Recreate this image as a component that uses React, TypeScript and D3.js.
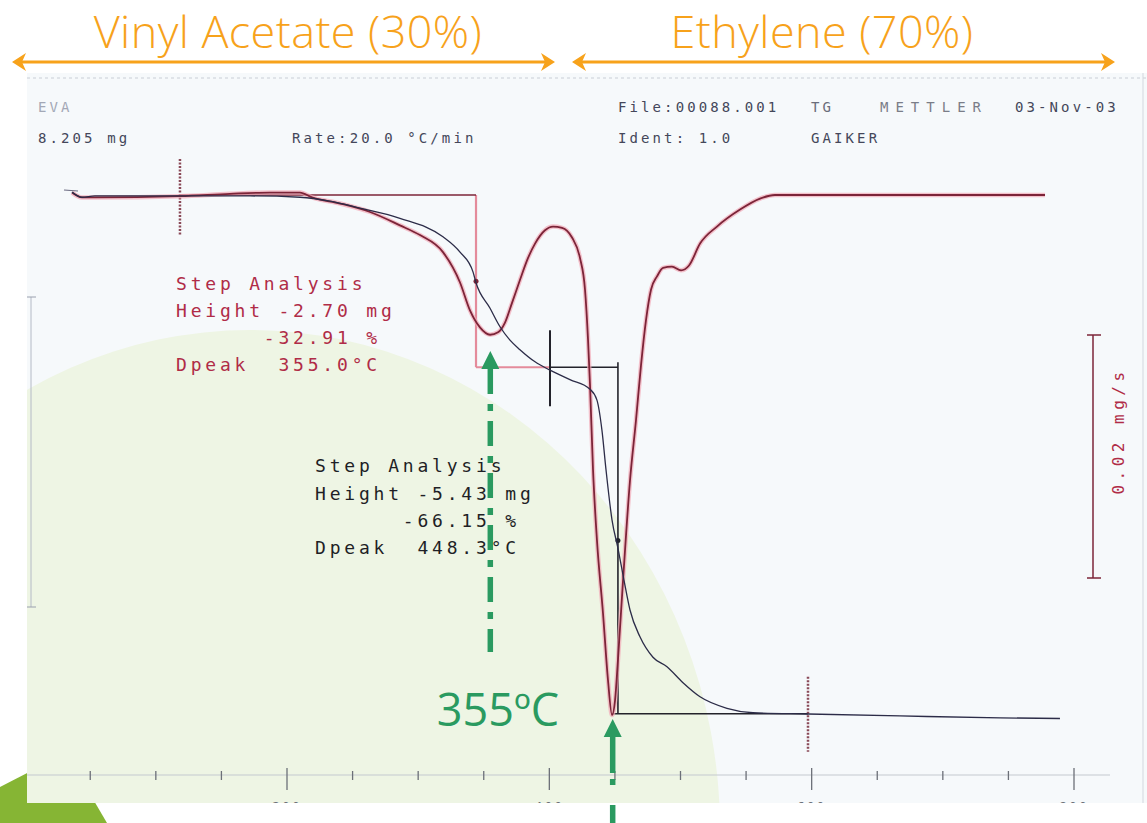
import React from "react";
import * as d3 from "d3";

const W = 1147;
const H = 823;

// TG curve: temperature (°C) and sample mass (mg)
const tgTemp = [36.1, 43.7, 53.6, 118.4, 171.8, 209.9, 232.8, 255.7, 286.1, 318.9, 331.9, 341.8, 344.1, 354.8, 362.4, 370.0, 377.6, 389.1, 400.5, 415.7, 431.0, 436.3, 440.1, 443.2, 447.8, 452.3, 456.9, 461.5, 469.1, 479.0, 489.7, 501.9, 514.9, 535.4, 555.3, 597.2, 667.3, 743.6, 789.3];
const tgMass = [8.25, 8.17, 8.19, 8.19, 8.19, 8.17, 8.11, 8.0, 7.84, 7.55, 7.31, 7.0, 6.83, 6.43, 6.14, 5.93, 5.78, 5.59, 5.46, 5.31, 5.16, 4.99, 4.52, 3.9, 3.11, 2.67, 2.17, 1.7, 1.28, 0.96, 0.81, 0.56, 0.34, 0.16, 0.09, 0.07, 0.04, 0.01, 0.0];

// DTG curve: temperature (°C) and mass loss rate (mg/s)
const dtgTemp = [36.1, 43.7, 53.6, 118.4, 156.5, 187.0, 209.9, 219.1, 240.4, 263.3, 286.1, 301.4, 318.9, 331.9, 339.5, 347.1, 354.8, 360.9, 366.2, 371.5, 377.6, 383.7, 389.1, 396.7, 402.8, 409.7, 417.3, 423.4, 427.2, 429.5, 431.0, 433.3, 436.3, 440.9, 444.7, 447.8, 450.1, 452.3, 456.2, 461.5, 466.1, 469.9, 473.7, 477.5, 482.1, 486.7, 493.5, 500.4, 506.5, 514.9, 527.8, 545.4, 560.6, 572.0, 667.3, 777.9];
const dtgRate = [0.0002, -0.0002, -0.0002, -0.0001, 0.0001, 0.0002, 0.0002, -0.0002, -0.0007, -0.0014, -0.0025, -0.0033, -0.0047, -0.0072, -0.0095, -0.0109, -0.0115, -0.0113, -0.0105, -0.0089, -0.007, -0.0052, -0.004, -0.0029, -0.0026, -0.0027, -0.0035, -0.0052, -0.0078, -0.0119, -0.0156, -0.0226, -0.0284, -0.0344, -0.0399, -0.0428, -0.0416, -0.0383, -0.0317, -0.0235, -0.0185, -0.014, -0.0103, -0.0078, -0.0067, -0.006, -0.0059, -0.0062, -0.0058, -0.004, -0.0026, -0.0012, -0.0003, 0, 0, 0];

// step analysis
const startMass = 8.205;
const stepHeights = [-2.7, -5.43];
const stepStart = [118.4, 400.5];
const stepEnd = [344.1, 452.3];
const stepTail = 597.2;
const peaks = [355.0, 448.3];

const xTickLabels = ["200", "400", "600", "800"];

const x = d3.scaleLinear().domain([200, 800]).range([287, 1074]);
const yTG = d3.scaleLinear().domain([startMass, 0]).range([195, 195 + startMass * 63.8]);
const yDTG = d3.scaleLinear().domain([0, -0.02]).range([195, 438]);

const orange = "#f7a21b";
const green = "#2a9a60";
const red = "#b02c47";
const maroon = "#7c2438";

const mono = "'DejaVu Sans Mono', 'Liberation Mono', monospace";

function DoubleArrow({ x1, x2, y }: { x1: number; x2: number; y: number }) {
  return (
    <g stroke={orange} fill={orange}>
      <line x1={x1 + 6} x2={x2 - 6} y1={y} y2={y} strokeWidth={3} />
      <path d={`M${x1},${y} L${x1 + 14},${y - 9} L${x1 + 10},${y} L${x1 + 14},${y + 9} Z`} stroke="none" />
      <path d={`M${x2},${y} L${x2 - 14},${y - 9} L${x2 - 10},${y} L${x2 - 14},${y + 9} Z`} stroke="none" />
    </g>
  );
}

export default function App() {
  const tgLine = d3
    .line<number>()
    .x((_, i) => x(tgTemp[i]))
    .y((d) => yTG(d))
    .curve(d3.curveMonotoneX)(tgMass) as string;

  const dtgLine = d3
    .line<number>()
    .x((_, i) => x(dtgTemp[i]))
    .y((d) => yDTG(d))
    .curve(d3.curveMonotoneX)(dtgRate) as string;

  const m1 = startMass + stepHeights[0];
  const m2 = m1 + stepHeights[1];
  const minorTicks = d3.range(50, 801, 50);

  const redText: React.CSSProperties = { fontFamily: mono, fontSize: 18, letterSpacing: 3.8, fill: red, whiteSpace: "pre" };
  const blackText: React.CSSProperties = { ...redText, fill: "#1f1f26" };
  const headText: React.CSSProperties = { fontFamily: mono, fontSize: 14, letterSpacing: 3.1, fill: "#44475a", whiteSpace: "pre" };

  const barTop = 335;
  const barBottom = barTop + (yDTG(-0.02) - yDTG(0));

  return (
    <svg width={W} height={H} style={{ position: "absolute", left: 0, top: 0, background: "#fff" }}>
      <defs>
        <clipPath id="scan">
          <rect x={27} y={73} width={W - 27} height={730} />
        </clipPath>
      </defs>

      {/* green slide decoration */}
      <polygon points="0,787 66,753 107,823 0,823" fill="#86b534" />

      {/* scanned plot background */}
      <rect x={27} y={73} width={W - 27} height={730} fill="#f6f9fb" />
      <g clipPath="url(#scan)">
        <ellipse cx={250} cy={830} rx={470} ry={500} fill="#eef5e4" />
        <line x1={27} x2={W} y1={78} y2={78} stroke="#c9ced6" strokeWidth={1} strokeDasharray="3 3" />
        <line x1={1143} x2={1143} y1={73} y2={803} stroke="#d3d7de" strokeWidth={1} />

        {/* left axis */}
        <line x1={31} x2={31} y1={297} y2={607} stroke="#b4bac6" strokeWidth={1} />
        <line x1={27} x2={36} y1={297} y2={297} stroke="#9aa0ae" strokeWidth={1} />
        <line x1={27} x2={36} y1={607} y2={607} stroke="#9aa0ae" strokeWidth={1} />

        {/* temperature axis */}
        <line x1={27} x2={1110} y1={775} y2={775} stroke="#c4c9cf" strokeWidth={1} />
        {minorTicks.map((t) => (
          <line key={t} x1={x(t)} x2={x(t)} y1={t % 200 === 0 ? 768 : 771} y2={t % 200 === 0 ? 790 : 780} stroke="#6c7078" strokeWidth={1.3} />
        ))}
        {xTickLabels.map((l) => (
          <text key={l} x={x(+l)} y={811} textAnchor="middle" style={{ fontFamily: mono, fontSize: 13, fill: "#6c7078", letterSpacing: 2 }}>
            {l}
          </text>
        ))}

        {/* header texts */}
        <text x={38} y={112} style={{ ...headText, fill: "#a3a8b6" }}>EVA</text>
        <text x={38} y={143} style={headText}>8.205 mg</text>
        <text x={292} y={143} style={headText}>Rate:20.0 °C/min</text>
        <text x={618} y={112} style={headText}>File:00088.001</text>
        <text x={811} y={112} style={{ ...headText, fill: "#6a6d7a" }}>TG</text>
        <text x={880} y={112} style={{ ...headText, fill: "#7a7d88", letterSpacing: 7 }}>METTLER</text>
        <text x={1015} y={112} style={headText}>03-Nov-03</text>
        <text x={618} y={143} style={headText}>Ident: 1.0</text>
        <text x={811} y={143} style={headText}>GAIKER</text>

        {/* step 1 construction (red) */}
        <g stroke="#e48b9b" strokeWidth={2.2} fill="none">
          <line x1={x(stepEnd[0])} x2={x(stepEnd[0])} y1={yTG(startMass)} y2={yTG(m1)} />
          <line x1={x(stepEnd[0])} x2={x(stepStart[1])} y1={yTG(m1)} y2={yTG(m1)} />
        </g>
        <line x1={x(stepStart[0])} x2={x(stepEnd[0])} y1={yTG(startMass)} y2={yTG(startMass)} stroke={maroon} strokeWidth={1.6} />
        <line x1={x(stepStart[0])} x2={x(stepStart[0])} y1={yTG(startMass) - 36} y2={yTG(startMass) + 40} stroke="#8a4a58" strokeWidth={2.5} strokeDasharray="2 1.5" />
        <circle cx={x(stepEnd[0])} cy={yTG((startMass + m1) / 2)} r={2.5} fill={maroon} />

        {/* step 2 construction (black) */}
        <g stroke="#23232b" strokeWidth={1.6} fill="none">
          <line x1={x(stepStart[1])} x2={x(stepEnd[1])} y1={yTG(m1)} y2={yTG(m1)} />
          <line x1={x(stepStart[1])} x2={x(stepStart[1])} y1={yTG(m1) - 37} y2={yTG(m1) + 39} strokeWidth={2} />
          <line x1={x(stepEnd[1])} x2={x(stepEnd[1])} y1={yTG(m1) - 5} y2={yTG(m2)} />
          <line x1={x(peaks[1]) - 1} x2={x(stepTail)} y1={yTG(m2)} y2={yTG(m2)} />
        </g>
        <line x1={x(stepTail)} x2={x(stepTail)} y1={yTG(m2) - 37} y2={yTG(m2) + 38} stroke="#8a4a58" strokeWidth={2.5} strokeDasharray="2 1.5" />
        <circle cx={x(stepEnd[1])} cy={yTG((m1 + m2) / 2)} r={2.5} fill="#23232b" />

        {/* curves */}
        <path d={dtgLine} fill="none" stroke="#f2a9b6" strokeWidth={4.5} strokeOpacity={0.7} />
        <path d={dtgLine} fill="none" stroke={maroon} strokeWidth={1.8} />
        <path d={tgLine} fill="none" stroke="#2c2c48" strokeWidth={1.3} />
        <line x1={64} x2={78} y1={190} y2={191} stroke="#6a6a80" strokeWidth={1.2} />

        {/* annotations */}
        <text x={176} y={290} style={redText}>Step Analysis</text>
        <text x={176} y={317} style={redText}>Height -2.70 mg</text>
        <text x={176} y={344} style={redText}>      -32.91 %</text>
        <text x={176} y={371} style={redText}>Dpeak  355.0°C</text>

        <text x={315} y={472} style={blackText}>Step Analysis</text>
        <text x={315} y={500} style={blackText}>Height -5.43 mg</text>
        <text x={315} y={527} style={blackText}>      -66.15 %</text>
        <text x={315} y={554} style={blackText}>Dpeak  448.3°C</text>

        {/* DTG scale bar */}
        <g stroke={maroon} strokeWidth={1.5}>
          <line x1={1093} x2={1093} y1={barTop} y2={barBottom} />
          <line x1={1087} x2={1101} y1={barTop} y2={barTop} />
          <line x1={1087} x2={1101} y1={barBottom} y2={barBottom} />
        </g>
        <text
          transform="translate(1124,431) rotate(-90)"
          textAnchor="middle"
          style={{ fontFamily: mono, fontSize: 16, letterSpacing: 4.5, fill: red, whiteSpace: "pre" }}
        >
          0.02 mg/s
        </text>
      </g>

      {/* headline arrows */}
      <DoubleArrow x1={12} x2={555} y={62} />
      <DoubleArrow x1={572} x2={1115} y={62} />
      <text x={288} y={48} textAnchor="middle" style={{ fontFamily: "'Open Sans', sans-serif", fontWeight: 300, fontSize: 45, letterSpacing: 0.4, fill: orange }}>
        Vinyl Acetate (30%)
      </text>
      <text x={822} y={48} textAnchor="middle" style={{ fontFamily: "'Open Sans', sans-serif", fontWeight: 300, fontSize: 45, letterSpacing: 0.4, fill: orange }}>
        Ethylene (70%)
      </text>

      {/* peak markers */}
      <g fill={green}>
        <path d={`M${x(peaks[0])},351 L${x(peaks[0]) - 9},369 L${x(peaks[0]) + 9},369 Z`} />
        <line x1={x(peaks[0])} x2={x(peaks[0])} y1={369} y2={652} stroke={green} strokeWidth={5.5} strokeDasharray="25 10 7 10" />
        <path d={`M${x(peaks[1])},719 L${x(peaks[1]) - 9},737 L${x(peaks[1]) + 9},737 Z`} />
        <line x1={x(peaks[1])} x2={x(peaks[1])} y1={737} y2={H} stroke={green} strokeWidth={5.5} strokeDasharray="36 6 6 20" />
      </g>
      <text x={498} y={726} textAnchor="middle" style={{ fontFamily: "'Open Sans', sans-serif", fontSize: 45, fill: green }}>
        355ºC
      </text>
    </svg>
  );
}
